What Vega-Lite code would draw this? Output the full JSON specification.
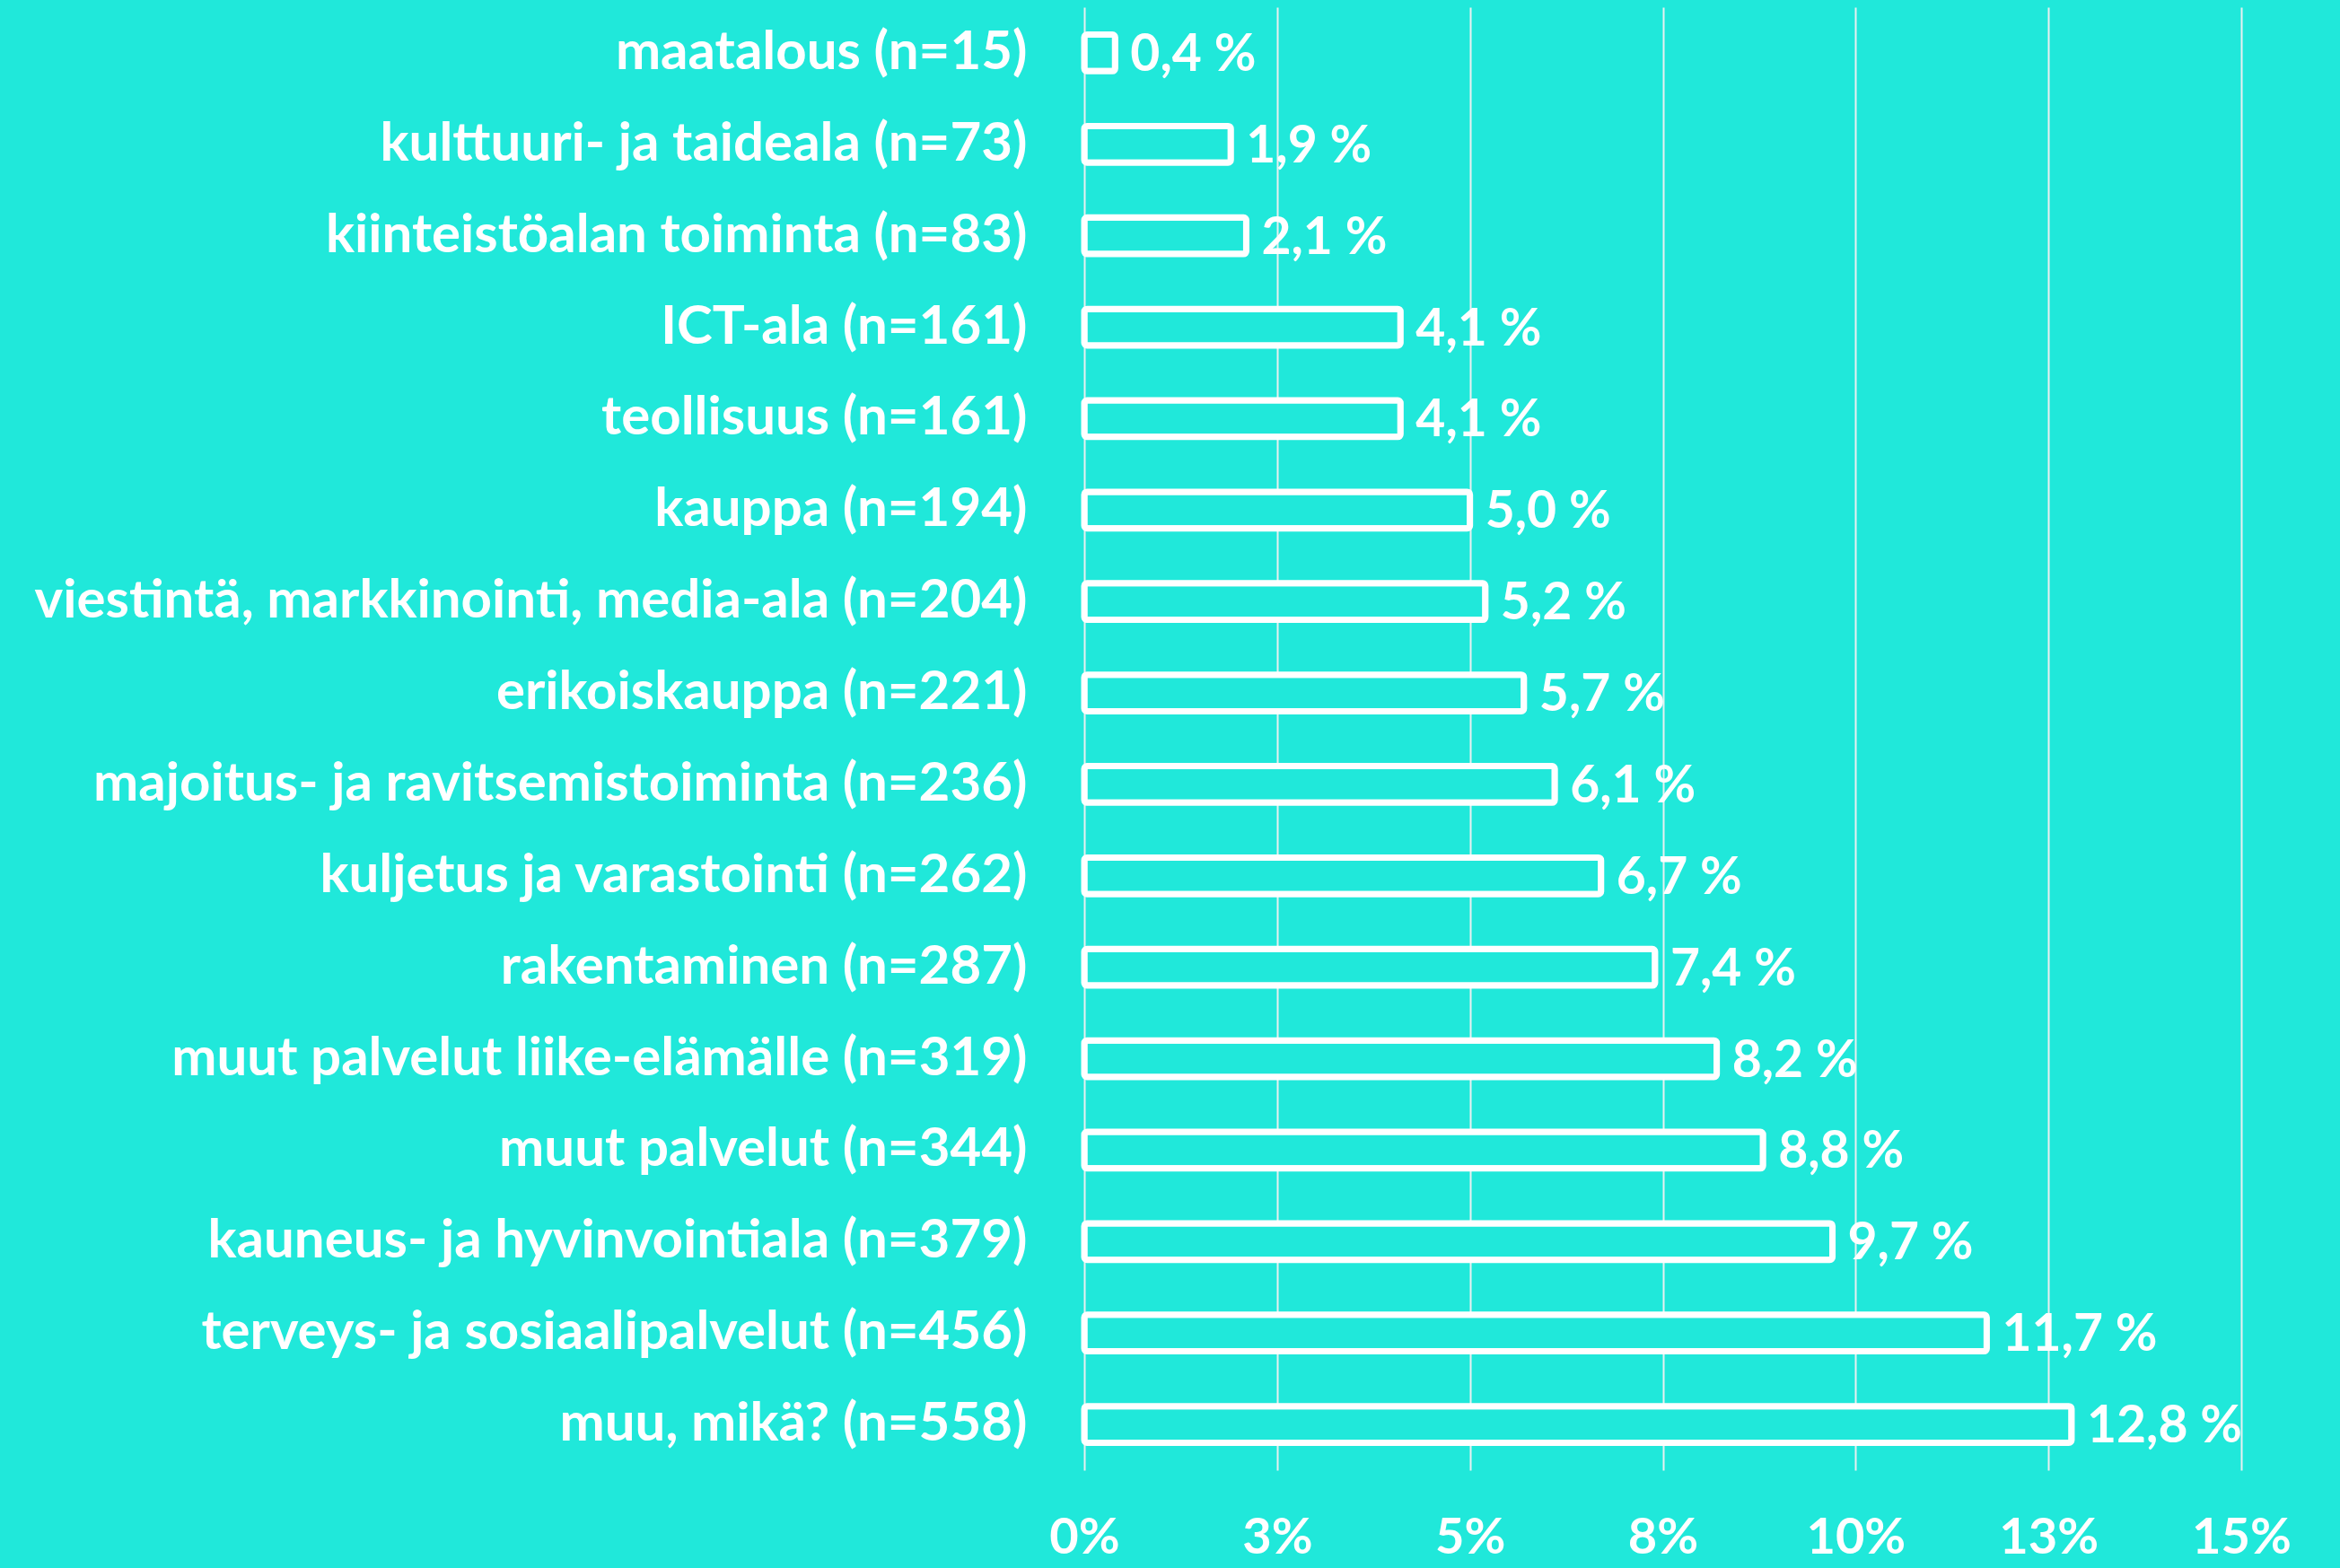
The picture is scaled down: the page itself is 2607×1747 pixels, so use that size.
{
  "$schema": "https://vega.github.io/schema/vega-lite/v6.json",
  "width": 1289,
  "height": 1630,
  "autosize": {"type": "none"},
  "padding": {"left": 1208, "top": 8, "right": 110, "bottom": 109},
  "background": "#20E8DA",
  "data": {"values": [
    {"ala": "maatalous (n=15)", "osuus": 0.4},
    {"ala": "kulttuuri- ja taideala (n=73)", "osuus": 1.9},
    {"ala": "kiinteistöalan toiminta (n=83)", "osuus": 2.1},
    {"ala": "ICT-ala (n=161)", "osuus": 4.1},
    {"ala": "teollisuus (n=161)", "osuus": 4.1},
    {"ala": "kauppa (n=194)", "osuus": 5.0},
    {"ala": "viestintä, markkinointi, media-ala (n=204)", "osuus": 5.2},
    {"ala": "erikoiskauppa (n=221)", "osuus": 5.7},
    {"ala": "majoitus- ja ravitsemistoiminta (n=236)", "osuus": 6.1},
    {"ala": "kuljetus ja varastointi (n=262)", "osuus": 6.7},
    {"ala": "rakentaminen (n=287)", "osuus": 7.4},
    {"ala": "muut palvelut liike-elämälle (n=319)", "osuus": 8.2},
    {"ala": "muut palvelut (n=344)", "osuus": 8.8},
    {"ala": "kauneus- ja hyvinvointiala (n=379)", "osuus": 9.7},
    {"ala": "terveys- ja sosiaalipalvelut (n=456)", "osuus": 11.7},
    {"ala": "muu, mikä? (n=558)", "osuus": 12.8}
  ]},
  "transform": [
    {"calculate": "replace(format(datum.osuus, '.1f'), '.', ',') + ' %'", "as": "teksti"}
  ],
  "encoding": {
    "y": {
      "field": "ala", "type": "nominal", "sort": null, "title": null,
      "scale": {"paddingInner": 0.6, "paddingOuter": 0.3},
      "axis": {
        "ticks": false, "domain": false, "labelColor": "white", "labelFont": "Lato",
        "labelFontWeight": "bold", "labelFontSize": 60, "labelPadding": 64, "labelLimit": 1300
      }
    },
    "x": {
      "field": "osuus", "type": "quantitative", "title": null,
      "scale": {"domain": [0, 15], "nice": false},
      "axis": {
        "values": [0, 2.5, 5, 7.5, 10, 12.5, 15],
        "labelExpr": "round(datum.value) + '%'",
        "ticks": false, "domain": false, "grid": true, "gridColor": "#e8f0f0", "gridWidth": 2,
        "labelColor": "white", "labelFont": "Lato", "labelFontWeight": "bold", "labelFontSize": 56,
        "labelPadding": 48, "labelFlush": false
      }
    }
  },
  "layer": [
    {"mark": {"type": "bar", "fill": "#20E8DA", "stroke": "white", "strokeWidth": 7, "cornerRadius": 3}},
    {"mark": {"type": "text", "align": "left", "baseline": "middle", "dx": 17, "dy": 3, "color": "white", "font": "Lato", "fontWeight": "bold", "fontSize": 57},
     "encoding": {"text": {"field": "teksti"}}}
  ],
  "config": {"view": {"stroke": null}}
}
